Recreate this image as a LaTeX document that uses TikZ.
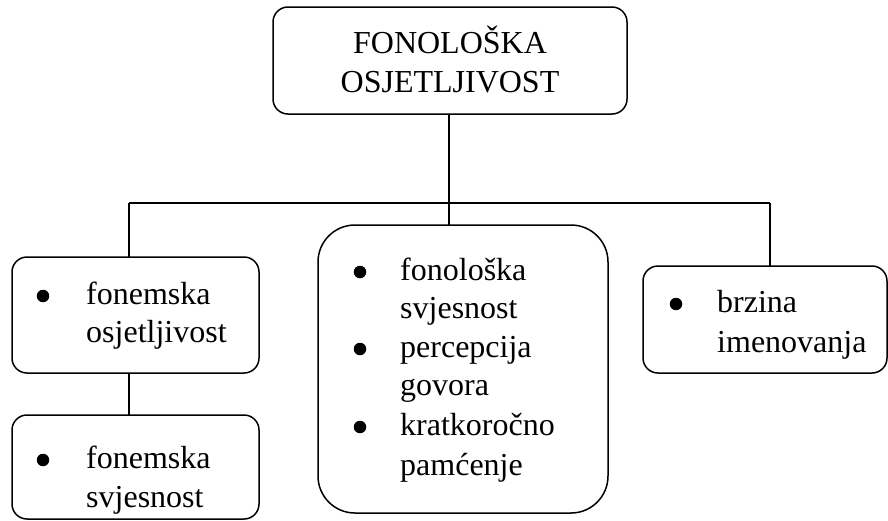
\documentclass[tikz,border=0pt]{standalone}
\usepackage{fontspec}
\setmainfont{Liberation Serif}
\begin{document}
\begin{tikzpicture}[x=1pt,y=-1pt,
  box/.style={draw,line width=1.5pt,rounded corners=15pt,inner sep=0pt,outer sep=0pt},
  bigbox/.style={box,rounded corners=37pt},
  txt/.style={anchor=base west,inner sep=0pt,font=\fontsize{32}{39}\selectfont},
  ctxt/.style={anchor=base,inner sep=0pt,font=\fontsize{32}{39}\selectfont},
  dot/.style={circle,fill,inner sep=0pt,minimum size=12.5pt},
  con/.style={line width=1.4pt}]
\useasboundingbox (0,0) rectangle (888,520);
% boxes
\node[box,minimum width=354pt,minimum height=107pt] (top) at (450,60.5) {};
\node[box,minimum width=247pt,minimum height=116pt] (left1) at (135.5,315) {};
\node[box,minimum width=247pt,minimum height=104pt] (left2) at (135.5,467) {};
\node[bigbox,minimum width=290pt,minimum height=288pt] (mid) at (463,369) {};
\node[box,minimum width=244pt,minimum height=107pt] (right) at (765,319.5) {};
% top text
\node[ctxt] (t1) at (450,53) {FONOLOŠKA};
\node[ctxt] (t2) at (450,92) {OSJETLJIVOST};
% left1
\node[dot] (b1) at (43,296) {};
\node[txt] (l1a) at (86,304) {fonemska};
\node[txt] (l1b) at (86,342) {osjetljivost};
% left2
\node[dot] (b2) at (43,460) {};
\node[txt] (l2a) at (86,468) {fonemska};
\node[txt] (l2b) at (86,507) {svjesnost};
% middle
\node[dot] (b3) at (360,272) {};
\node[txt] (m1) at (400,280) {fonološka};
\node[txt] (m2) at (400,318) {svjesnost};
\node[dot] (b4) at (360,349) {};
\node[txt] (m3) at (400,357) {percepcija};
\node[txt] (m4) at (400,395) {govora};
\node[dot] (b5) at (360,427) {};
\node[txt] (m5) at (400,435) {kratkoročno};
\node[txt] (m6) at (400,475) {pamćenje};
% right
\node[dot] (b6) at (676,304) {};
\node[txt] (r1) at (717,312) {brzina};
\node[txt] (r2) at (717,352) {imenovanja};
% connectors
\coordinate (jL) at (129,203);
\coordinate (jR) at (770,203);
\coordinate (jM) at (449,203);
\draw[con] (jL) -- (jR);
\draw[con] (jM |- top.south) -- (jM |- mid.north);
\draw[con] (jL) -- (jL |- left1.north);
\draw[con] (jR) -- (jR |- right.north);
\draw[con] (jL |- left1.south) -- (jL |- left2.north);
\end{tikzpicture}
\end{document}
